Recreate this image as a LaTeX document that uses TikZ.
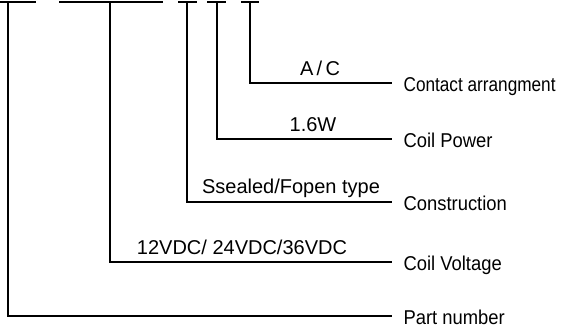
\documentclass[tikz,border=0pt]{standalone}
\usepackage{fontspec}
\setmainfont{Liberation Sans}
\newfontfamily\fieldfont[FakeStretch=0.92]{Liberation Sans}
\newfontfamily\tightfont[FakeStretch=0.86]{Liberation Sans}

\begin{document}
\begin{tikzpicture}
    [x=1pt, y=-1pt,
    line width=1.2pt,
    value/.style={
        anchor=base, inner sep=0pt,
        font=\fontsize{20}{20}\selectfont
    },
    field/.style={
        anchor=west, inner xsep=11pt, inner ysep=0pt,
        text height=16pt, text depth=0pt,
        font=\fieldfont\fontsize{20}{20}\selectfont
    },
    wire/.style={
        draw, line width=1.2pt
    }
    ]
    \useasboundingbox (0,0) rectangle (561,327);

    % Code bars along the top
    \foreach \pos/\xl/\xr/\cx in {1/0/36/8, 2/59/163/110, 3/178/197/187, 4/207/226/217, 5/241/259/250}{
        \draw (\xl,2) -- (\xr,2);
        \coordinate (top\pos) at (\cx,2);
    }

    % Fields and their leaders
    \foreach \pos/\y/\field in {1/316/Part number, 2/262/Coil Voltage, 3/202/Construction, 4/139/Coil Power, 5/83/{\tightfont Contact arrangment}}{
        \node[field] (field\pos) at (392,\y) {\field};
        \path [wire] (top\pos) |- (field\pos.west);
    }

    % Values above the leaders
    \node[value] (value2) at (242,254) {12VDC/ 24VDC/36VDC};
    \node[value] (value3) at (291,193) {Ssealed/Fopen type};
    \node[value] (value4) at (313,131) {1.6W};
    \node[value] (value5) at (320,75) {A\,/\,C};
\end{tikzpicture}
\end{document}
